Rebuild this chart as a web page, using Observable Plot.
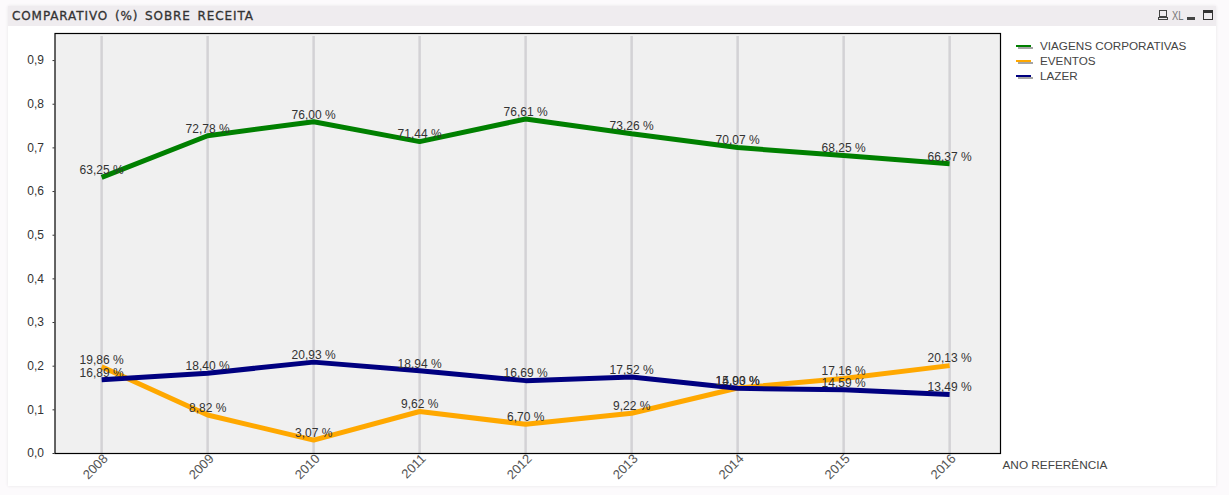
<!DOCTYPE html>
<html lang="pt">
<head>
<meta charset="utf-8">
<script src="https://cdn.jsdelivr.net/npm/d3@7"></script>
<script src="https://cdn.jsdelivr.net/npm/@observablehq/plot@0.6"></script>
<style>
html,body{margin:0;padding:0;background:#fcfafc;width:1229px;height:495px;overflow:hidden;font-family:"Liberation Sans",Arial,sans-serif}
#panel{position:absolute;left:8px;top:6px;width:1208px;height:480px;background:#fff;box-shadow:0 0 3px #e8e4e8}
#bar{position:absolute;left:8px;top:6px;width:1208px;height:20px;background:#efecef}
#title{position:absolute;left:12px;top:8px;font:12px/16px "DejaVu Sans",sans-serif;color:#333;word-spacing:2px;letter-spacing:.9px;white-space:nowrap;-webkit-text-stroke:.3px #333}
#chart{position:absolute;left:0;top:0}
#legend{position:absolute;left:1016px;top:38px;font-size:11.7px;color:#444}
.row{position:relative;height:15px;line-height:15px;padding-left:24px;white-space:nowrap}
.sw{position:absolute;left:0;top:7px;width:15px;height:2px}
.sh{position:absolute;left:2px;top:9px;width:15px;height:2px;background:#a5a5a5}
.ic{position:absolute;box-sizing:border-box}
#xl{position:absolute;left:1172px;top:8px;font:13px/15px "Liberation Sans",sans-serif;color:#777;transform:scaleX(.72);transform-origin:left}
</style>
</head>
<body>
<div id="panel"></div>
<div id="bar"></div>
<div id="title"></div>
<div class="ic" style="left:1159px;top:10px;width:8px;height:7px;border:1px solid #444"></div>
<div class="ic" style="left:1158px;top:17px;width:10px;height:3px;border:1px solid #444"></div>
<div id="xl">XL</div>
<div class="ic" style="left:1187px;top:17px;width:8px;height:3px;background:#444"></div>
<div class="ic" style="left:1203px;top:10px;width:10px;height:10px;border:1px solid #333;border-top:3px solid #333"></div>
<div id="chart"></div>
<div id="legend"></div>
<script>
const chartTitle = "COMPARATIVO (%) SOBRE RECEITA";
const axisTitle = "ANO REFERÊNCIA";
const years = [2008, 2009, 2010, 2011, 2012, 2013, 2014, 2015, 2016];
const yTicks = [0, 0.1, 0.2, 0.3, 0.4, 0.5, 0.6, 0.7, 0.8, 0.9];
const seriesNames = ["VIAGENS CORPORATIVAS", "EVENTOS", "LAZER"];
const seriesColors = ["#008000", "#ffa800", "#000080"];
const viagens = [63.25, 72.78, 76.00, 71.44, 76.61, 73.26, 70.07, 68.25, 66.37];
const eventos = [19.86, 8.82, 3.07, 9.62, 6.70, 9.22, 15.00, 17.16, 20.13];
const lazer = [16.89, 18.40, 20.93, 18.94, 16.69, 17.52, 14.93, 14.59, 13.49];

const seriesValues = [viagens, eventos, lazer];
const rows = seriesNames.flatMap((name, i) =>
  years.map((year, j) => ({name, year, pct: seriesValues[i][j], share: seriesValues[i][j] / 100})));
const comma = (v, d) => v.toFixed(d).replace(".", ",");

document.getElementById("title").textContent = chartTitle;
document.getElementById("legend").innerHTML = seriesNames.map((n, i) =>
  `<div class="row"><span class="sh"></span><span class="sw" style="background:${seriesColors[i]}"></span>${n}</div>`).join("");

const plot = Plot.plot({
  width: 1229,
  height: 495,
  marginLeft: 54.5,
  marginRight: 229,
  marginTop: 33,
  marginBottom: 42,
  style: {background: "transparent", fontFamily: "'Liberation Sans',Arial,sans-serif", fontSize: "12px"},
  x: {domain: [2007.56, 2016.48]},
  y: {domain: [0, 0.962]},
  color: {domain: seriesNames, range: seriesColors},
  marks: [
    Plot.frame({fill: "#f0f0f0"}),
    Plot.ruleX(years, {y1: 0, y2: 0.955, stroke: "#d3d2d5", strokeWidth: 2.5}),
    Plot.frame({stroke: "#000", strokeWidth: 1.2}),
    Plot.axisY(yTicks, {
      tickFormat: d => comma(d, 1), tickSize: 2, tickPadding: 9, stroke: "#333",
      fill: "#333", label: null, fontSize: 12
    }),
    Plot.axisX(years, {
      tickFormat: d => String(d), tickSize: 0, tickPadding: 3, tickRotate: -45,
      fill: "#555", label: null, fontSize: 13, dx: 4
    }),
    Plot.line(rows, {
      x: "year", y: "share", z: "name", stroke: "name",
      strokeWidth: 5, strokeLinecap: "butt", strokeLinejoin: "miter", curve: "linear"
    }),
    Plot.text(rows, {
      x: "year", y: "share", text: d => comma(d.pct, 2) + " %",
      dy: -7, fill: "#333", fontSize: 12, textAnchor: "middle", lineAnchor: "middle"
    }),
    Plot.text([axisTitle], {
      frameAnchor: "bottom-right", textAnchor: "start", lineAnchor: "middle",
      dx: 2, dy: 12, fill: "#444", fontSize: 11.8
    })
  ]
});
document.getElementById("chart").appendChild(plot);
</script>
</body>
</html>
